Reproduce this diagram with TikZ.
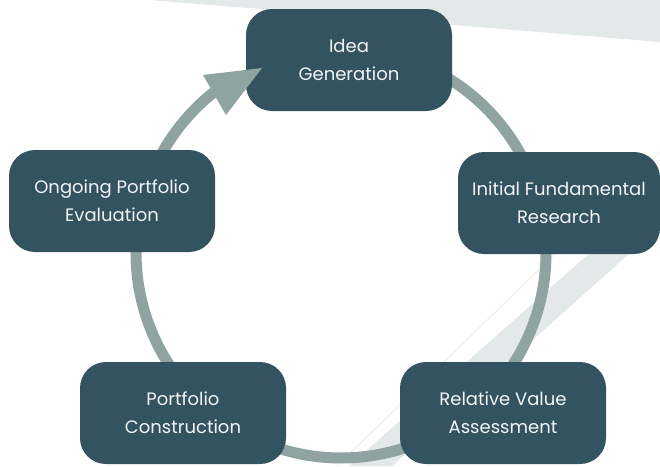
\documentclass[tikz,border=0pt]{standalone}
\usepackage{fontspec}
\setmainfont{Poppins}
\usetikzlibrary{backgrounds}
\definecolor{boxc}{HTML}{32535F}
\definecolor{connc}{HTML}{8FA3A1}
\definecolor{bandc}{HTML}{E3E8E8}
\definecolor{faintc}{HTML}{F0F1EC}
\definecolor{txtc}{HTML}{F2F4F4}
\begin{document}
\begin{tikzpicture}[x=1pt,y=-1pt,
  stage/.style={draw=none, fill=boxc, rounded corners=26pt, minimum width=206pt,
    minimum height=102pt, inner sep=0pt, align=center, text=txtc,
    font=\fontsize{18}{28}\selectfont},
  conn/.style={draw=connc, line width=11pt}]
\useasboundingbox (0,0) rectangle (660,466);
\coordinate (ctr) at (341,253);
\node[stage] (idea) at (349,60) {Idea\\Generation};
\node[stage, minimum width=202pt] (research) at (559,203) {Initial Fundamental\\Research};
\node[stage] (relative) at (503,413) {Relative Value\\Assessment};
\node[stage] (construct) at (183,413) {Portfolio\\Construction};
\node[stage] (ongoing) at (112,201) {Ongoing Portfolio\\Evaluation};
\begin{scope}[on background layer]
  \fill[bandc] (150,0) -- (660,0) -- (660,42) -- cycle;
  \fill[bandc] (349,466) -- (392,466) -- (660,226) -- (660,191) -- cycle;
  \draw[faintc, line width=1.2pt] (337,466) -- (660,152);
  \draw[conn, shift={(ctr)}] plot[domain=-88:-12, samples=60] (\x:205);
  \draw[conn, shift={(ctr)}] plot[domain=-13:46, samples=60] (\x:205);
  \draw[conn, shift={(ctr)}] plot[domain=44:136, samples=80] (\x:205);
  \draw[conn, shift={(ctr)}] plot[domain=134:194, samples=60] (\x:205);
  \draw[conn, shift={(ctr)}] plot[domain=192:233, samples=50] (\x:205);
\end{scope}
\coordinate (tip) at (262,68);
\coordinate (barbA) at (203,75);
\coordinate (barbB) at (226,115);
\fill[connc] (barbA) -- (tip) -- (barbB) -- cycle;
\end{tikzpicture}
\end{document}
